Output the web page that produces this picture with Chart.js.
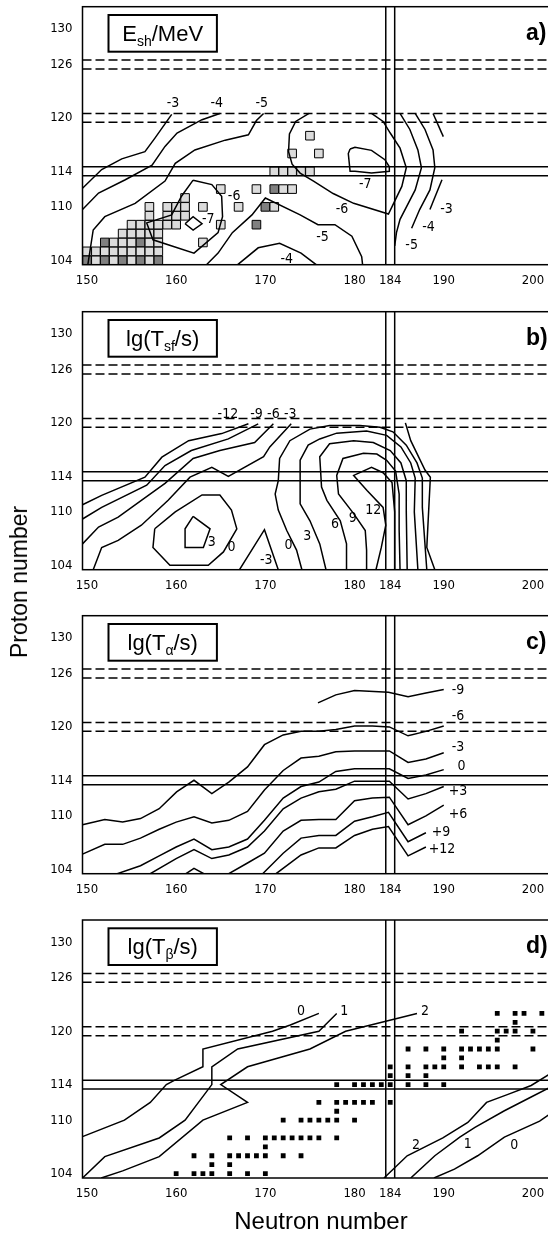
<!DOCTYPE html>
<html lang="en">
<head>
  <meta charset="UTF-8" />
  <title>Superheavy nuclei maps</title>
  <script src="https://cdn.jsdelivr.net/npm/chart.js"></script>
  <style>
    html, body {
      margin: 0;
      padding: 0;
      background: #fff;
      width: 548px;
      height: 1234px;
      overflow: hidden;
    }
    body { position: relative; }
    canvas { position: absolute; left: 0; }
    .axis-title {
      position: absolute;
      font-family: 'Liberation Sans', Arial, sans-serif;
      font-size: 23px;
      line-height: 24px;
      color: #000;
      white-space: nowrap;
    }
    #titleZ { left: 19px; top: 582px; transform: translate(-50%, -50%) rotate(-90deg); }
    #titleN { left: 321px; top: 1209px; transform: translateX(-50%); font-size: 24px; }
  </style>
</head>
<body>
  <canvas id="panelA" width="582" height="304" style="top:0px"></canvas>
  <canvas id="panelB" width="582" height="304" style="top:305px"></canvas>
  <canvas id="panelC" width="582" height="304" style="top:609px"></canvas>
  <canvas id="panelD" width="582" height="304" style="top:913px"></canvas>
  <div class="axis-title" id="titleZ">Proton number</div>
  <div class="axis-title" id="titleN">Neutron number</div>

  <script>
    // axes
    const neutronTicks = [150, 160, 170, 180, 184, 190, 200];
    const protonTicks = [104, 110, 114, 120, 126, 130];
    const nRange = [149.5, 205.5];
    const zRange = [103.5, 132.5];

    // shell closures (double lines) and dashed lines
    const shellN = [183.5, 184.5];
    const shellZ = [113.5, 114.5];
    const dashedZ = [119.5, 120.5, 125.5, 126.5];

    // ---- a) shell energy E_sh / MeV ----
    const eshM3 = [[149.5,112.1],[151.65,114.2],[153.9,115.4],[156.5,116.2],[157.6,117.7],[159.5,120.4]];
    const eshM4 = [[149.5,109.7],[151.3,111.55],[154.3,113.05],[157.3,114.7],[158.75,116.8],[160.1,118.3],[162.9,119.8],[164.9,120.5]];
    const eshM5 = [[150.1,103.5],[150.7,107.4],[152.0,108.9],[155.4,110.4],[158.75,112.9],[159.9,114.9],[162.1,116.4],[165.5,117.5],[168.1,118.1],[169.0,119.7],[169.8,120.5]];
    const eshM6 = [[161.9,113.0],[164.0,112.5],[165.1,111.2],[165.2,108.9],[164.7,107.1],[162.0,104.8],[157.4,106.3],[156.7,108.2],[159.5,109.1],[160.6,111.2],[161.9,113.0]];
    const eshM7 = [[161.0,108.1],[161.9,108.9],[162.9,108.1],[161.9,107.4],[161.0,108.1]];
    const eshM4low = [[166.9,103.5],[169.2,105.4],[171.6,105.9],[174.0,104.8],[175.7,103.5]];
    const eshM5low = [[163.4,103.5],[164.7,104.8],[166.3,107.1],[168.5,109.1],[170.0,111.0],[173.9,109.1],[175.9,108.0],[177.8,108.0],[179.7,106.7],[180.8,104.4],[180.9,103.5]];
    const eshM6right = [[174.9,120.5],[173.4,119.6],[172.7,118.2],[172.6,116.2],[173.0,114.8],[173.9,113.8],[175.4,112.9],[177.6,111.5],[179.9,110.4],[183.8,109.2],[185.3,112.3],[185.8,114.4],[185.1,116.6],[184.0,118.3],[183.2,119.6],[181.9,120.5]];
    const eshM7right = [[179.5,116.5],[180.05,116.7],[181.9,116.35],[183.4,115.3],[183.9,114.5],[183.9,114.0],[181.9,113.8],[180.05,114.0],[179.5,114.0],[179.3,116.0],[179.5,116.5]];
    const eshM5far = [[185.1,120.5],[186.2,118.7],[187.1,116.4],[187.5,114.4],[186.8,111.9],[185.1,108.6],[184.7,107.1],[184.5,105.6]];
    const eshM4far = [[186.8,120.5],[187.9,118.7],[188.8,116.4],[189.0,114.4],[188.45,111.9],[187.3,109.7],[186.4,107.6]];
    const eshM3farTop = [[188.8,120.5],[189.95,117.9]];
    const eshM3farLow = [[189.8,113.05],[188.45,109.7]];
    const eshLabels = [
      [159.65,121.6,'-3'],[164.55,121.6,'-4'],[169.6,121.6,'-5'],
      [166.5,111.2,'-6'],[163.6,108.55,'-7'],[172.4,104.1,'-4'],
      [176.4,106.6,'-5'],[178.6,109.75,'-6'],[181.2,112.5,'-7'],
      [190.3,109.7,'-3'],[188.3,107.7,'-4'],[186.4,105.7,'-5']
    ];
    // known nuclei, light and dark cells
    const knownLight = [
      [151,104],[153,104],[155,104],[157,104],
      [150,105],[151,105],[152,105],[153,105],[154,105],[155,105],[156,105],[157,105],[158,105],
      [153,106],[154,106],[155,106],[157,106],[158,106],[163,106],
      [154,107],[155,107],[156,107],[157,107],[158,107],
      [155,108],[156,108],[157,108],[158,108],[159,108],[160,108],[165,108],
      [157,109],[159,109],[160,109],[161,109],
      [157,110],[159,110],[160,110],[161,110],[163,110],[167,110],[171,110],
      [161,111],
      [165,112],[169,112],[172,112],[173,112],
      [171,114],[172,114],[173,114],[174,114],[175,114],
      [173,116],[176,116],
      [175,118]
    ];
    const knownDark = [[150,104],[152,104],[154,104],[156,104],[158,104],[152,106],[156,106],[169,108],[170,110],[171,112]];

    // ---- b) lg(T_sf / s) ----
    const sfM12 = [[149.5,110.8],[151.65,111.85],[156.5,113.9],[158.4,116.15],[161.4,118.0],[165.1,118.8],[168.1,119.9]];
    const sfM9 = [[149.5,109.2],[151.65,110.5],[156.7,113.0],[158.75,115.2],[161.7,116.9],[165.85,118.2],[169.2,119.9]];
    const sfM6 = [[149.5,106.4],[151.3,108.3],[153.5,109.4],[156.1,111.3],[158.75,113.2],[161.9,116.0],[164.9,116.9],[168.8,117.8],[170.9,119.9]];
    const sfM3 = [[150.7,103.5],[151.65,106.0],[153.5,106.8],[156.1,108.5],[159.1,111.3],[161.55,113.9],[164.0,115.0],[165.85,114.0],[169.8,116.2],[170.5,117.3],[172.9,119.9]];
    const sfP3island = [[161.9,109.5],[163.8,108.1],[163.05,106.0],[161.0,106.0],[161.0,108.1],[161.9,109.5]];
    const sfZeroIsland = [[157.6,108.1],[159.9,110.0],[162.9,111.9],[164.9,111.9],[166.2,110.2],[166.8,108.1],[165.3,105.5],[163.6,104.0],[159.3,104.0],[157.4,106.0],[157.6,108.1]];
    const sfM3island = [[167.1,103.5],[169.9,108.0],[171.45,103.5]];
    const sfZero = [[174.1,103.5],[173.5,105.7],[172.4,107.9],[171.45,110.2],[171.1,112.0],[171.45,113.5],[171.6,116.0],[172.75,118.0],[175.0,119.3],[177.2,119.7],[180.6,119.7],[182.85,119.5],[184.3,119.0],[185.8,117.5],[187.0,115.5],[187.6,113.8],[187.6,110.5],[188.1,103.5]];
    const sfP3 = [[176.8,103.5],[176.1,106.4],[175.0,109.0],[173.9,110.9],[173.9,115.8],[174.8,117.5],[176.1,118.2],[178.0,118.85],[181.35,119.1],[183.6,118.6],[185.2,117.3],[186.3,115.5],[186.8,113.8],[186.7,110.0],[187.1,103.5]];
    const sfP6 = [[179.1,103.5],[179.1,106.4],[178.4,109.0],[176.9,111.3],[176.3,112.8],[176.1,116.2],[177.2,117.65],[179.9,118.0],[182.1,117.8],[184.0,116.9],[185.2,115.5],[185.8,113.5],[185.8,110.0],[185.9,103.5]];
    const sfP9 = [[181.35,103.5],[181.35,105.7],[181.2,107.9],[179.9,109.8],[178.2,112.0],[178.0,114.1],[178.7,116.0],[181.0,116.6],[182.5,116.5],[183.6,115.8],[184.6,114.6],[185.0,112.0],[185.0,108.0],[185.1,103.5]];
    const sfP12 = [[182.4,103.5],[183.0,106.0],[183.5,108.5],[183.2,110.5],[181.4,112.4],[179.9,114.1],[181.9,115.0],[183.2,114.4],[184.2,113.3],[184.5,110.0],[184.5,103.5]];
    const sfM3right = [[185.7,120.0],[186.3,118.0],[187.9,114.7],[188.5,113.9],[188.1,106.0],[189.0,103.5]];
    const sfLabels = [
      [165.8,121.0,'-12'],[169.0,121.0,'-9'],[170.9,121.0,'-6'],[172.8,121.0,'-3'],
      [164.0,106.6,'3'],[166.2,106.0,'0'],[170.1,104.6,'-3'],
      [172.6,106.2,'0'],[174.7,107.2,'3'],[177.8,108.6,'6'],[179.8,109.3,'9'],[182.1,110.2,'12']
    ];

    // ---- c) lg(T_alpha / s) ----
    const taM9 = [[175.9,122.7],[177.9,123.6],[180.0,124.1],[183.8,123.9],[186.0,123.4],[188.0,123.8],[190.0,124.2]];
    const taM6 = [[149.5,109.0],[152,109.6],[154,109.3],[156,109.7],[158.1,110.8],[160.05,112.7],[162,114.0],[164,112.5],[165.9,113.8],[168,115.5],[169.9,118.0],[172,119.1],[174,119.5],[176,119.5],[177.9,119.7],[180,120.1],[182,120.1],[183.9,120.0],[186,119.0],[188,119.5],[190,120.1]];
    const taM3 = [[149.5,105.7],[152,106.8],[154,106.8],[156,107.5],[158.1,108.5],[160,109.3],[162,109.9],[164,109.2],[165.9,109.5],[168,110.5],[169.9,112.9],[172,115.1],[174,116.5],[176,116.7],[177.9,117.2],[180,117.3],[183.9,117.3],[186,116.0],[188,116.4],[190,117.1]];
    const taZero = [[153.4,103.5],[156,104.4],[158.1,105.5],[160,106.5],[162,107.4],[164,106.2],[165.9,106.5],[168,107.4],[169.9,109.5],[172,112.0],[174,113.3],[176,113.8],[177.9,115.0],[180,115.3],[183.9,115.3],[186,114.2],[188,114.6],[190,115.2]];
    const taP3 = [[157.1,103.5],[160,105.2],[162,106.2],[164,105.2],[165.9,105.6],[168,106.5],[169.9,108.3],[172,110.8],[174,112.0],[176,112.7],[177.9,113.0],[180,113.9],[183.9,113.9],[186,111.9],[188,112.5],[190,113.3]];
    const taP6bump = [[161.1,103.5],[162,104.1],[163.1,103.5]];
    const taP6 = [[165.9,103.5],[168,104.7],[169.9,105.8],[172,108.3],[174,109.5],[176,109.6],[177.9,109.6],[180,111.7],[182,112.0],[183.9,112.1],[186,109.0],[188,110.0],[190,111.2]];
    const taP9 = [[169.7,103.5],[172,105.8],[174,107.5],[176,107.8],[177.9,107.8],[180,109.4],[182,109.9],[183.8,110.4],[186,107.1],[188,108.1]];
    const taP12 = [[171.2,103.5],[174,105.6],[176,106.4],[177.9,106.4],[180,107.8],[182,108.5],[183.8,108.8],[186,105.5],[188,106.5]];
    const taLabels = [
      [191.6,124.1,'-9'],[191.6,121.2,'-6'],[191.6,117.7,'-3'],[192.0,115.6,'0'],
      [191.6,112.7,'+3'],[191.6,110.2,'+6'],[189.7,108.1,'+9'],[189.8,106.2,'+12']
    ];

    // ---- d) lg(T_beta / s) ----
    const tbZero = [[149.5,108.15],[154.2,110.0],[157.1,112.0],[158.9,114.0],[159.85,114.5],[163.0,116.0],[163.0,118.0],[170.8,120.0],[172.8,120.7],[176.0,122.0]];
    const tbOne = [[149.5,103.5],[152.0,105.9],[158.1,108.0],[161.0,110.0],[164.0,114.0],[164.0,116.0],[166.9,118.0],[176.0,120.0],[178.0,122.0]];
    const tbTwo = [[151.6,103.5],[154.0,104.3],[158.1,105.9],[163.0,110.0],[168.0,112.0],[165.0,114.0],[168.0,116.0],[175.0,118.0],[179.0,120.0],[187.0,122.0]];
    const tbTwoRight = [[183.3,103.5],[185.9,106.0],[189.9,108.0],[192.7,109.75],[194.8,112.0],[197.2,112.9],[199.8,113.9],[203.5,116.2]];
    const tbOneRight = [[186.3,103.5],[189.0,106.0],[191.8,108.1],[193.5,109.2],[196.8,111.06],[199.8,112.6],[203.5,114.5]];
    const tbZeroRight = [[188.9,103.5],[191.2,104.5],[193.8,106.0],[196.8,108.1],[200.75,109.9],[203.5,111.8]];
    const tbLabels = [
      [174.0,122.2,'0'],[178.85,122.2,'1'],[187.9,122.2,'2'],
      [186.9,107.2,'2'],[192.7,107.3,'1'],[197.9,107.2,'0']
    ];
    const betaStable = [
      [160,104],[162,104],[163,104],[164,104],[166,104],[168,104],[170,104],
      [164,105],[166,105],
      [162,106],[164,106],[166,106],[167,106],[168,106],[169,106],[170,106],[172,106],[174,106],
      [170,107],
      [166,108],[168,108],[170,108],[171,108],[172,108],[173,108],[174,108],[175,108],[176,108],[178,108],
      [172,110],[174,110],[175,110],[176,110],[177,110],[178,110],[180,110],
      [178,111],
      [176,112],[178,112],[179,112],[180,112],[181,112],[182,112],[184,112],
      [178,114],[180,114],[181,114],[182,114],[183,114],[184,114],[186,114],[188,114],[190,114],
      [184,115],[186,115],[188,115],
      [184,116],[186,116],[188,116],[189,116],[190,116],[192,116],[194,116],[195,116],[196,116],[198,116],
      [190,117],[192,117],
      [186,118],[188,118],[190,118],[192,118],[193,118],[194,118],[195,118],[196,118],[200,118],
      [196,119],
      [192,120],[196,120],[197,120],[198,120],[200,120],[202,120],
      [198,121],
      [196,122],[198,122],[199,122],[201,122]
    ];

    const narrowFont = "'Liberation Sans Narrow', 'DejaVu Sans Condensed', 'Liberation Sans', sans-serif";
    const plainFont = "'Liberation Sans', Arial, sans-serif";

    // frame, contour labels, title box and panel letter
    const panelDecor = {
      id: 'panelDecor',
      afterDatasetsDraw(chart, args, opts) {
        const { ctx, chartArea: a, scales: { x, y } } = chart;
        ctx.save();
        ctx.strokeStyle = '#000';
        ctx.lineWidth = 1.5;
        ctx.strokeRect(a.left, a.top, a.right - a.left, a.bottom - a.top);

        ctx.fillStyle = '#000';
        ctx.font = '14px ' + narrowFont;
        ctx.textAlign = 'center';
        ctx.textBaseline = 'middle';
        for (const [n, z, t] of opts.labels) {
          ctx.fillText(t, x.getPixelForValue(n), y.getPixelForValue(z));
        }

        // title box
        const bx = a.left + 26, by = a.top + 8.3, bw = 108.4, bh = 36.7;
        ctx.fillStyle = '#fff';
        ctx.fillRect(bx, by, bw, bh);
        ctx.lineWidth = 2;
        ctx.strokeRect(bx, by, bw, bh);
        const mainF = '22px ' + plainFont, subF = '14px ' + plainFont;
        let w = 0;
        for (const [t, sub] of opts.box) {
          ctx.font = sub ? subF : mainF;
          w += ctx.measureText(t).width;
        }
        let tx = bx + (bw - w) / 2;
        const base = by + 26;
        ctx.fillStyle = '#000';
        ctx.textAlign = 'left';
        ctx.textBaseline = 'alphabetic';
        for (const [t, sub] of opts.box) {
          ctx.font = sub ? subF : mainF;
          ctx.fillText(t, tx, sub ? base + 5 : base);
          tx += ctx.measureText(t).width;
        }

        ctx.font = 'bold 23px ' + plainFont;
        ctx.fillText(opts.letter, a.left + 443.5, a.top + 33);
        ctx.restore();
      }
    };
    Chart.register(panelDecor);

    function lineSet(pts, dash) {
      return {
        data: pts.map(p => ({ x: p[0], y: p[1] })),
        showLine: true,
        borderColor: '#000',
        borderWidth: 1.5,
        borderDash: dash || [],
        pointRadius: 0,
        fill: false,
        tension: 0,
        order: 1
      };
    }

    function squareSet(cells, fill, radius, border) {
      return {
        data: cells.map(c => ({ x: c[0], y: c[1] })),
        showLine: false,
        pointStyle: 'rect',
        pointRadius: radius,
        pointBackgroundColor: fill,
        pointBorderColor: '#000',
        pointBorderWidth: border,
        order: 2
      };
    }

    function guideSets() {
      const sets = [];
      for (const n of shellN) sets.push(lineSet([[n, zRange[0]], [n, zRange[1]]]));
      for (const z of shellZ) sets.push(lineSet([[nRange[0], z], [nRange[1], z]]));
      for (const z of dashedZ) sets.push(lineSet([[nRange[0], z], [nRange[1], z]], [9, 4]));
      return sets;
    }

    // no automatic label padding: the plot area is fixed
    function noPad(s) {
      s.paddingTop = 0;
      s.paddingBottom = 0;
      s.paddingLeft = 0;
      s.paddingRight = 0;
    }

    function makePanel(id, padTop, contours, squares, labels, box, letter) {
      const datasets = guideSets().concat(contours.map(c => lineSet(c)), squares);
      new Chart(document.getElementById(id), {
        type: 'scatter',
        data: { datasets },
        options: {
          responsive: false,
          animation: false,
          events: [],
          layout: { autoPadding: false, padding: { top: padTop, left: 0, right: 0, bottom: 0 } },
          plugins: {
            legend: { display: false },
            tooltip: { enabled: false },
            panelDecor: { labels, box, letter }
          },
          scales: {
            x: {
              type: 'linear',
              min: nRange[0],
              max: nRange[1],
              grid: { display: false, drawTicks: false },
              border: { display: false },
              ticks: { autoSkip: false, maxRotation: 0, padding: 8, color: '#000', font: { family: narrowFont, size: 13 } },
              afterBuildTicks: s => { s.ticks = neutronTicks.map(v => ({ value: v })); },
              afterFit: s => { s.height = 304 - padTop - 258; noPad(s); }
            },
            y: {
              type: 'linear',
              min: zRange[0],
              max: zRange[1],
              grid: { display: false, drawTicks: false },
              border: { display: false },
              ticks: { padding: 10, color: '#000', font: { family: narrowFont, size: 13 } },
              afterBuildTicks: s => { s.ticks = protonTicks.map(v => ({ value: v })); },
              afterFit: s => { s.width = 82.5; noPad(s); }
            }
          }
        }
      });
    }

    makePanel('panelA', 6.7,
      [eshM3, eshM4, eshM5, eshM6, eshM7, eshM4low, eshM5low, eshM6right, eshM7right, eshM5far, eshM4far, eshM3farTop, eshM3farLow],
      [squareSet(knownLight, '#dcdcdc', 6.1, 1), squareSet(knownDark, '#808080', 6.1, 1)],
      eshLabels, [['E', false], ['sh', true], ['/MeV', false]], 'a)');

    makePanel('panelB', 6.7,
      [sfM12, sfM9, sfM6, sfM3, sfP3island, sfZeroIsland, sfM3island, sfZero, sfP3, sfP6, sfP9, sfP12, sfM3right],
      [], sfLabels, [['lg(T', false], ['sf', true], ['/s)', false]], 'b)');

    makePanel('panelC', 6.7,
      [taM9, taM6, taM3, taZero, taP3, taP6bump, taP6, taP9, taP12],
      [], taLabels, [['lg(T', false], ['\u03b1', true], ['/s)', false]], 'c)');

    makePanel('panelD', 7,
      [tbZero, tbOne, tbTwo, tbTwoRight, tbOneRight, tbZeroRight],
      [squareSet(betaStable, '#000', 3.4, 0)],
      tbLabels, [['lg(T', false], ['\u03b2', true], ['/s)', false]], 'd)');
  </script>
</body>
</html>
